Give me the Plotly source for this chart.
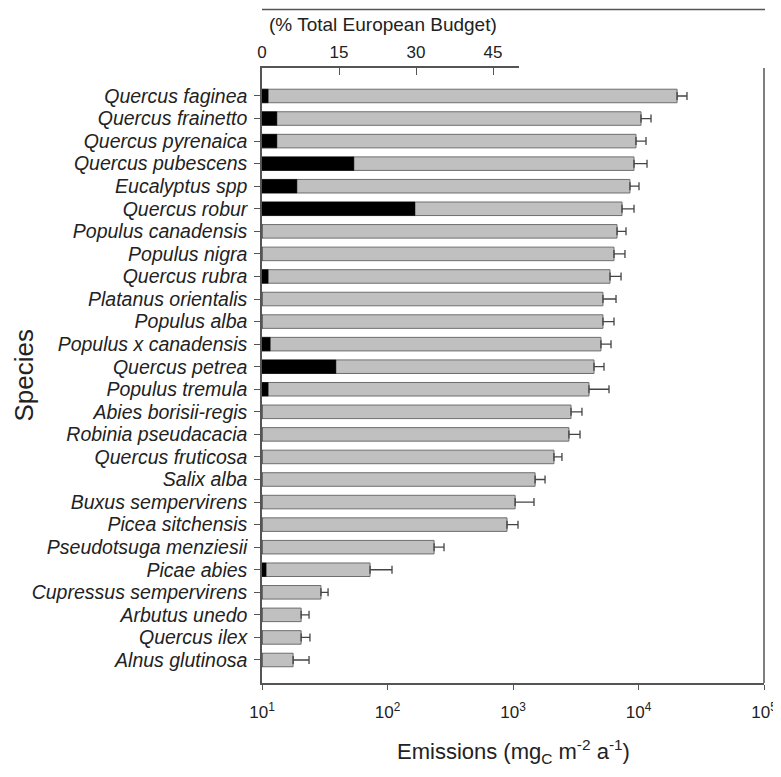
import plotly.graph_objects as go

species = [
    "Quercus faginea", "Quercus frainetto", "Quercus pyrenaica", "Quercus pubescens",
    "Eucalyptus spp", "Quercus robur", "Populus canadensis", "Populus nigra",
    "Quercus rubra", "Platanus orientalis", "Populus alba", "Populus x canadensis",
    "Quercus petrea", "Populus tremula", "Abies borisii-regis", "Robinia pseudacacia",
    "Quercus fruticosa", "Salix alba", "Buxus sempervirens", "Picea sitchensis",
    "Pseudotsuga menziesii", "Picae abies", "Cupressus sempervirens", "Arbutus unedo",
    "Quercus ilex", "Alnus glutinosa",
]
emissions = [20300, 10470, 9550, 9210, 8550, 7390, 6745, 6380, 5930, 5210, 5210, 5020,
             4420, 4030, 2900, 2790, 2120, 1500, 1040, 896, 235, 72.6, 29.5, 20.5, 20.5, 17.7]
emissions_upper = [24340, 12580, 11480, 11690, 10090, 9210, 7950, 7800, 7260, 6620, 6380, 6040,
                   5310, 5820, 3545, 3420, 2455, 1800, 1470, 1096, 282, 108.6, 33.6, 23.7, 24.1, 23.7]
budget_pct = [1.2, 2.9, 2.9, 17.9, 6.8, 29.8, 0, 0, 1.2, 0, 0, 1.6,
              14.4, 1.2, 0, 0, 0, 0, 0, 0, 0, 0.8, 0, 0, 0, 0]
x_tickvals = [10, 100, 1000, 10000, 100000]
x_ticktext = ["10<sup>1</sup>", "10<sup>2</sup>", "10<sup>3</sup>", "10<sup>4</sup>", "10<sup>5</sup>"]
top_tickvals = [0, 15, 30, 45]

err_plus = [u - v for u, v in zip(emissions_upper, emissions)]

FONT = "Liberation Sans, Arial, sans-serif"
AX = "#555555"
TXT = "#222222"

# page offset (body margin) compensation
OFF = 8
W, H = 781 - OFF, 777 - OFF
L, R, T, B = 262, 764, 68, 683  # plot area in page pixels
PW, PH = R - L, B - T

fig = go.Figure()
fig.add_trace(go.Bar(
    y=species, x=emissions, orientation="h", width=0.6,
    marker=dict(color="#c0c0c0", line=dict(color="#6e6e6e", width=1)),
    error_x=dict(type="data", symmetric=False, array=err_plus,
                 arrayminus=[0] * len(species), color="#444444", thickness=1.3, width=4),
    xaxis="x", yaxis="y", showlegend=False,
))
fig.add_trace(go.Bar(
    y=species, x=budget_pct, orientation="h", width=0.6,
    marker=dict(color="#000000", line=dict(color="#000000", width=0.5)),
    xaxis="x2", yaxis="y", showlegend=False,
))

top_frac = 50 * (493 - 262) / 45 / float(PW)
top_line_y = (B - 9.5) / float(PH)

fig.update_layout(
    width=W, height=H,
    margin=dict(l=L - OFF, r=W - (R - OFF), t=T - OFF, b=H - (B - OFF), autoexpand=False),
    paper_bgcolor="white", plot_bgcolor="rgba(0,0,0,0)",
    font=dict(family=FONT, color=TXT),
    barmode="overlay",
    xaxis=dict(
        type="log", range=[1, 5], domain=[0, 1], automargin=False,
        tickvals=x_tickvals, ticktext=x_ticktext,
        tickfont=dict(size=17, color=TXT, family=FONT),
        ticks="outside", ticklen=5, tickcolor=AX, tickwidth=1.3,
        showline=True, linecolor=AX, linewidth=1.5,
        showgrid=False, zeroline=False, ticklabelstandoff=8,
    ),
    xaxis2=dict(
        range=[0, 50], domain=[0, top_frac], anchor="y", side="top", automargin=False,
        tickvals=top_tickvals,
        tickfont=dict(size=17, color=TXT, family=FONT),
        ticks="inside", ticklen=7, tickcolor=AX, tickwidth=1.3,
        showline=True, linecolor=AX, linewidth=1.5,
        showgrid=False, zeroline=False, ticklabelstandoff=1,
    ),
    yaxis=dict(
        type="category", categoryorder="array", categoryarray=species,
        tickmode="array", tickvals=species, ticktext=species,
        range=[26.02, -1.24], anchor="x", automargin=False,
        tickfont=dict(size=19.5, color=TXT, family=FONT, style="italic"),
        ticks="outside", ticklen=6, tickcolor=AX, tickwidth=1.3,
        showline=True, linecolor=AX, linewidth=1.5,
        showgrid=False, zeroline=False, ticklabelstandoff=3,
    ),
    shapes=[
        dict(type="line", xref="paper", yref="paper", x0=1, x1=1, y0=0, y1=1,
             line=dict(color=AX, width=1.5)),
        dict(type="line", xref="paper", yref="paper", x0=0, x1=1.002,
             y0=top_line_y, y1=top_line_y,
             line=dict(color=AX, width=1.5)),
    ],
    annotations=[
        dict(text="Species", xref="paper", yref="paper", x=(23 - L) / float(PW), y=0.5,
             xanchor="center", yanchor="middle", textangle=-90, showarrow=False,
             font=dict(size=26, color=TXT, family=FONT)),
        dict(text="Emissions (mg<sub>C</sub> m<sup>-2</sup> a<sup>-1</sup>)",
             xref="paper", yref="paper", x=0.5, y=(B - 751) / float(PH),
             xanchor="center", yanchor="middle", showarrow=False,
             font=dict(size=22, color=TXT, family=FONT)),
        dict(text="(% Total European Budget)", xref="paper", yref="paper",
             x=(383 - L) / float(PW), y=(B - 24) / float(PH),
             xanchor="center", yanchor="middle", showarrow=False,
             font=dict(size=19, color=TXT, family=FONT)),
    ],
)

fig.write_html("out.html")
